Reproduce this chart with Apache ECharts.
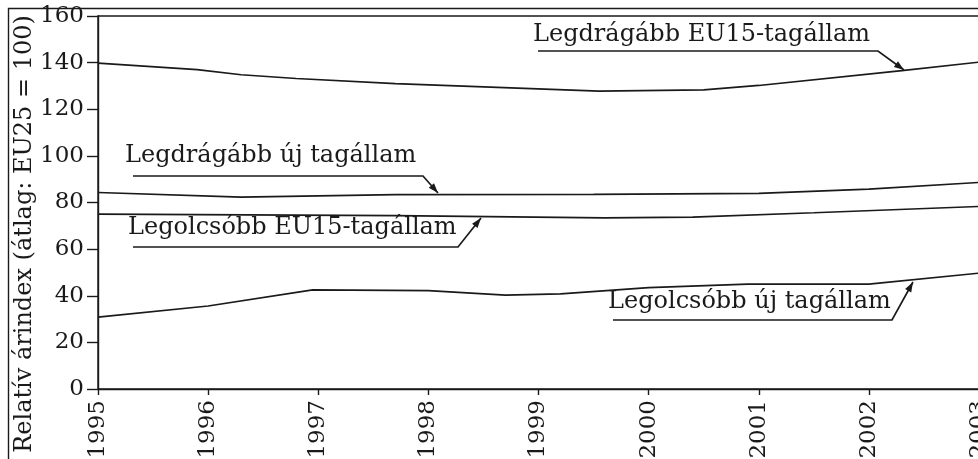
<!DOCTYPE html>
<html><head><meta charset="utf-8">
<script src="https://cdn.jsdelivr.net/npm/echarts@6/dist/echarts.min.js"></script>
<style>html,body{margin:0;padding:0;background:#fff}#c{width:978px;height:459px}</style>
</head><body><div id="c"></div>
<script>
var yearTicks = [1995,1996,1997,1998,1999,2000,2001,2002,2003];
var yTicks = [0,20,40,60,80,100,120,140,160];

var expEU15Years = [1995,1995.9,1996.3,1996.8,1997.7,1999.55,2000.5,2001.0,2002.3,2003];
var expEU15Vals  = [139.8,137.0,134.8,133.2,131.0,127.8,128.3,130.2,136.6,140.2];

var expNewYears = [1995,1996.3,1997.7,1999.5,2001,2002,2003];
var expNewVals  = [84.3,82.3,83.4,83.5,83.9,85.7,88.6];

var cheapEU15Years = [1995,1997.7,1999.6,2000.4,2001.5,2003];
var cheapEU15Vals  = [75.0,74.4,73.4,73.7,75.6,78.3];

var cheapNewYears = [1995,1996,1996.95,1998,1998.7,1999.2,2000,2000.9,2002,2003];
var cheapNewVals  = [30.8,35.6,42.5,42.2,40.3,40.8,43.5,45.0,45.0,49.7];

var seriesNames = ['Legdrágább EU15-tagállam','Legdrágább új tagállam','Legolcsóbb EU15-tagállam','Legolcsóbb új tagállam'];
var yAxisTitle = 'Relatív árindex (átlag: EU25 = 100)';

function pairs(xs, ys){ return xs.map(function(x,i){ return [x, ys[i]]; }); }

var FONT = 'DejaVu Serif';
var INK = '#1a1a1a';
var chart = echarts.init(document.getElementById('c'), null, {renderer:'canvas'});

function lineSeries(name, xs, ys){
  return {type:'line', name:name, data:pairs(xs,ys), showSymbol:false, symbol:'none',
    lineStyle:{color:INK, width:1.7}, animation:false, silent:true};
}

function annot(text, tx, ty, ul, arrow){
  return [
    {type:'text', left:tx, top:ty, style:{text:text, font:'24px "'+FONT+'"', fill:INK}},
    {type:'polyline', shape:{points:[ul[0], ul[1], arrow]}, style:{stroke:INK, lineWidth:1.7, fill:null}},
  ];
}
function arrowHead(from, to){
  var dx = to[0]-from[0], dy = to[1]-from[1], L = Math.sqrt(dx*dx+dy*dy);
  var ux = dx/L, uy = dy/L, len = 10, w = 3.5;
  var bx = to[0]-ux*len, by = to[1]-uy*len;
  return {type:'polygon', shape:{points:[to,[bx-uy*w, by+ux*w],[bx+uy*w, by-ux*w]]}, style:{fill:INK}};
}

var graphics = [
  {type:'rect', shape:{x:8.5, y:8.5, width:1100, height:1000}, style:{stroke:INK, lineWidth:1.4, fill:null}, z:0},
  {type:'text', rotation:Math.PI/2, x:13, y:234, style:{text:yAxisTitle, font:'24px "'+FONT+'"', fill:INK, align:'center', verticalAlign:'top'}}
];
var A = [
  [seriesNames[0], 533, 23, [[538,51],[878,51]], [904,70]],
  [seriesNames[1], 125, 144, [[133,176],[423,176]], [438,193]],
  [seriesNames[2], 128, 216, [[133,247],[458,247]], [481,218]],
  [seriesNames[3], 608, 290, [[613,320],[892,320]], [913,282]]
];
A.forEach(function(a){
  graphics = graphics.concat(annot(a[0], a[1], a[2], a[3], a[4]));
  graphics.push(arrowHead(a[3][1], a[4]));
});

chart.setOption({
  backgroundColor:'#fff',
  animation:false,
  grid:{left:98, top:16, width:881, bottom:70, show:true, borderColor:INK, borderWidth:1.4, containLabel:false, outerBoundsMode:'none'},
  xAxis:{type:'value', min:1995, max:2003, interval:1,
    axisLine:{onZero:false, lineStyle:{color:INK, width:1.4}},
    axisTick:{show:true, length:6, lineStyle:{color:INK, width:1.4}},
    axisLabel:{rotate:90, color:INK, fontFamily:FONT, fontSize:23, margin:11, formatter:function(v){return String(v);}},
    splitLine:{show:false}},
  yAxis:{type:'value', min:0, max:160, interval:20,
    axisLine:{show:true, lineStyle:{color:INK, width:1.4}},
    axisTick:{show:true, length:11, lineStyle:{color:INK, width:1.4}},
    axisLabel:{color:INK, fontFamily:FONT, fontSize:23, margin:14},
    splitLine:{show:false}},
  series:[
    lineSeries(seriesNames[0], expEU15Years, expEU15Vals),
    lineSeries(seriesNames[1], expNewYears, expNewVals),
    lineSeries(seriesNames[2], cheapEU15Years, cheapEU15Vals),
    lineSeries(seriesNames[3], cheapNewYears, cheapNewVals)
  ],
  graphic:graphics
});
</script></body></html>
